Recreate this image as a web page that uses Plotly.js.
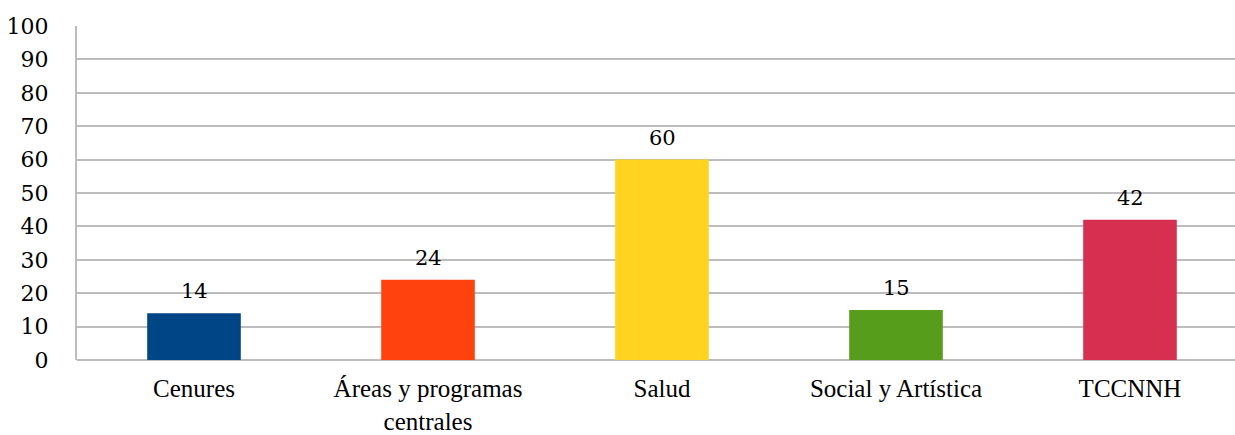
<!DOCTYPE html>
<html><head><meta charset="utf-8">
<script src="https://cdn.plot.ly/plotly-3.0.1.min.js"></script>
<style>html,body{margin:0;padding:0;background:#fff}</style>
</head><body>
<div id="chart" style="width:1235px;height:435px"></div>
<script>
const categories = ["Cenures", "Áreas y programas<br>centrales", "Salud", "Social y Artística", "TCCNNH"];
const values = [14, 24, 60, 15, 42];
const colors = ["#004586", "#FF420E", "#FFD320", "#579D1C", "#D62F50"];
const yTicks = [0, 10, 20, 30, 40, 50, 60, 70, 80, 90, 100];

const trace = {
  type: "bar",
  x: categories,
  y: values,
  marker: {color: colors},
  width: 0.4,
  hoverinfo: "none"
};

const labels = categories.map((c, i) => ({
  x: c, y: values[i], xref: "x", yref: "y",
  text: String(values[i]),
  showarrow: false,
  yanchor: "bottom",
  yshift: 8,
  font: {family: "DejaVu Serif", size: 21, color: "#000"}
}));

const plotLeft = 77, catWidth = 234;
const xEnd = -0.5 + (1235 - plotLeft) / catWidth;

const layout = {
  width: 1235, height: 435,
  margin: {l: plotLeft, r: 0, t: 26, b: 75},
  paper_bgcolor: "#fff", plot_bgcolor: "#fff",
  showlegend: false,
  annotations: labels,
  xaxis: {
    type: "category",
    range: [-0.5, xEnd],
    showgrid: false,
    showline: false,
    zeroline: false,
    ticks: "",
    tickfont: {family: "Liberation Serif", size: 25, color: "#000"},
    ticklabelstandoff: 11,
    fixedrange: true
  },
  yaxis: {
    range: [0, 100],
    tickvals: yTicks,
    ticktext: yTicks.map(String),
    showgrid: true,
    gridcolor: "#BDBDBD",
    gridwidth: 2,
    showline: true,
    linecolor: "#BDBDBD",
    linewidth: 2,
    zeroline: true,
    zerolinecolor: "#BDBDBD",
    zerolinewidth: 2,
    ticks: "",
    tickfont: {family: "DejaVu Serif", size: 22, color: "#000"},
    ticklabelstandoff: 22,
    fixedrange: true
  }
};

Plotly.newPlot("chart", [trace], layout, {displayModeBar: false, staticPlot: true});
</script>
</body></html>
